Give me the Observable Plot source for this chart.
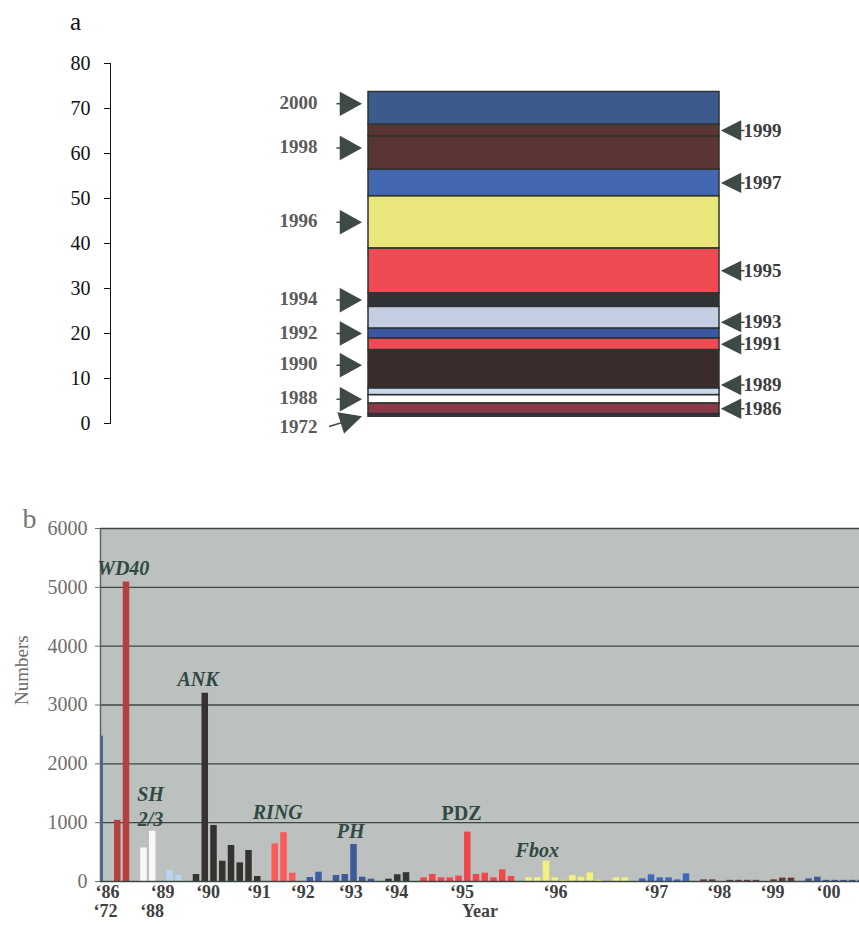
<!DOCTYPE html>
<html><head><meta charset="utf-8">
<script src="https://cdn.jsdelivr.net/npm/d3@7"></script>
<script src="https://cdn.jsdelivr.net/npm/@observablehq/plot@0.6"></script>
<style>
html,body{margin:0;padding:0;background:#fff;}
body{width:859px;height:926px;overflow:hidden;position:relative;}
#a{position:absolute;left:0;top:0;}
#b{position:absolute;left:0;top:490px;}
svg{overflow:visible;}
</style></head><body>
<div id="a"></div><div id="b"></div>
<script>
// ---------- Panel a: cumulative stack of domain families by year ----------
const stackYears  = [1972, 1986, 1988, 1989, 1990, 1991, 1992, 1993, 1994, 1995, 1996, 1997, 1998, 1999, 2000];
const stackCounts = [0.6, 2.37, 1.85, 1.5, 8.5, 2.6, 2.2, 4.8, 3.0, 10.0, 11.6, 5.9, 7.4, 2.6, 7.25];
const stackColors = ["#2f3b4b","#8a3a47","#ffffff","#c8d9ec","#3a2c2d","#ee4b55","#3b57a2","#c3cee2","#2f3236","#ee4b55","#e9e77c","#4467b1","#5b3434","#5b3434","#3d5a8c"];
const stackBase = 1.5;
const leftYears  = [2000, 1998, 1996, 1994, 1992, 1990, 1988];
const rightYears = [1999, 1997, 1995, 1993, 1991, 1989, 1986];
const axisATicks = [0, 10, 20, 30, 40, 50, 60, 70, 80];

// ---------- Panel b: numbers per year ----------
const groupYears  = ["1972","1986","1988","1989","1990","1991","1992","1993","1994","1995","1996","1997","1998","1999","2000"];
const groupValues = [
  [2470],
  [1040, 5090],
  [570, 855],
  [187, 102],
  [119, 3200, 952, 345, 612, 317, 527, 85],
  [640, 830, 141],
  [68, 158],
  [102, 119, 629, 73, 39],
  [39, 115, 150],
  [62, 119, 62, 62, 91, 839, 119, 141, 62, 198, 85],
  [65, 65, 345, 62, 20, 100, 73, 145, 20, null, 62, 62],
  [45, 113, 62, 62, 28, 130],
  [28, 28, null, 20, 20, 20, 20],
  [28, 57, 57],
  [45, 73, 20, 20, 20, 20, 20]
];
const groupColors = ["#4a64a6","#b4403e","#f8f8f8","#b9d6f0","#35332f","#fb5a5a","#3e5eab","#3e5a98","#34363a","#f0474c","#f3f17c","#3f68c2","#6a3434","#6a3434","#3d5b9c"];
const axisBTicks = [0, 1000, 2000, 3000, 4000, 5000, 6000];
const yearTickText = ["‘86","‘89","‘90","‘91","‘92","‘93","‘94","‘95","‘96","‘97","‘98","‘99","‘00","‘72","‘88"];
const yearTickSlot = [1.2, 7.5, 12.7, 18.5, 23.5, 29.0, 34.2, 41.7, 52.4, 63.9, 71.1, 77.2, 83.6, 0.97, 6.3];
const yearTickRow  = [0,0,0,0,0,0,0,0,0,0,0,0,0,1,1];
const familyNames = ["WD40","ANK","SH\n2/3","RING","PH","PDZ","Fbox"];
const familyYears = ["1986","1990","1988","1991","1993","1995","1996"];
const visibleSlots = [0.4, 87.14];

// ----- build panel a -----
let acc = stackBase;
const segs = stackYears.map((yr, i) => {
  const y1 = acc; acc += stackCounts[i];
  return {year: String(yr), y1, y2: acc, mid: (y1 + acc) / 2, color: stackColors[i]};
});
const leftSegs  = segs.filter(d => leftYears.includes(+d.year));
const rightSegs = segs.filter(d => rightYears.includes(+d.year));
const firstSeg  = segs.filter(d => d.year === "1972");
// small label nudges (in axis units) so neighbouring labels do not collide
const nudge = {"2000": 1, "1998": 1.1, "1990": 0.9, "1993": -1, "1989": 1.5};
const labelY = d => d.mid + (nudge[d.year] || 0);

const arrowColor = "#3e4a43";
const arrowRight = {draw(c){ c.moveTo(-24,0); c.lineTo(-20,0); c.moveTo(-20,-11); c.lineTo(0,0); c.lineTo(-20,11); c.closePath(); }};
const arrowLeft  = {draw(c){ c.moveTo(22,0); c.lineTo(18,0); c.moveTo(18,-9); c.lineTo(0,0); c.lineTo(18,9); c.closePath(); }};
const ux = 0.954, uy = -0.298, px = 0.298, py = 0.954;
const arrowDiag = {draw(c){
  const bx = -20*ux, by = -20*uy;
  c.moveTo(-33*ux, -33*uy); c.lineTo(bx, by);
  c.moveTo(bx + 10*px, by + 10*py); c.lineTo(0,0); c.lineTo(bx - 10*px, by - 10*py); c.closePath();
}};

const chartA = Plot.plot({
  width: 859, height: 460,
  marginTop: 63, marginBottom: 37, marginLeft: 110, marginRight: 140,
  style: {fontFamily: "'Liberation Serif', serif", fontSize: "20px", color: "#111", background: "transparent"},
  x: {domain: [0, 1], range: [368, 719], axis: null},
  y: {domain: [0, 80], ticks: axisATicks, tickSize: 6, tickPadding: 14, line: true, label: null},
  color: {type: "identity"},
  marks: [
    Plot.rect(segs, {x1: 0, x2: 1, y1: "y1", y2: "y2", fill: "color", stroke: "#2e3330", strokeWidth: 1.5}),
    Plot.dot(leftSegs, {x: 0, y: labelY, dx: -8, symbol: arrowRight, fill: arrowColor, stroke: arrowColor, strokeWidth: 1.5}),
    Plot.text(leftSegs, {x: 0, y: labelY, text: "year", dx: -51, dy: -1, textAnchor: "end", fontWeight: "bold", fill: "#5a5a5a", fontSize: 19}),
    Plot.dot(rightSegs, {x: 1, y: labelY, dx: 3, symbol: arrowLeft, fill: arrowColor, stroke: arrowColor, strokeWidth: 1.5}),
    Plot.text(rightSegs, {x: 1, y: labelY, text: "year", dx: 24, textAnchor: "start", fontWeight: "bold", fill: "#3c3c3c", fontSize: 19}),
    Plot.dot(firstSeg, {x: 0, y: "y1", dx: -8, symbol: arrowDiag, fill: arrowColor, stroke: arrowColor, strokeWidth: 1.5}),
    Plot.text(firstSeg, {x: 0, y: "y1", text: "year", dx: -51, dy: 10, textAnchor: "end", fontWeight: "bold", fill: "#5a5a5a", fontSize: 19}),
    Plot.text(["a"], {frameAnchor: "top-left", text: d => d, dx: -35, dy: -51, fontSize: 25, fill: "#111", textAnchor: "middle"})
  ]
});
document.getElementById("a").appendChild(chartA);

// ----- build panel b -----
const bars = [];
const colorOf = {};
let slot = 0;
groupYears.forEach((yr, g) => {
  colorOf[yr] = groupColors[g];
  groupValues[g].forEach(v => { if (v != null) bars.push({slot, value: v, year: yr}); slot++; });
  slot++;
});
const familyLabels = familyNames.map((name, i) => {
  const grp = bars.filter(b => b.year === familyYears[i]);
  const peak = grp.reduce((a, b) => b.value > a.value ? b : a);
  return {name, slot: peak.slot, value: peak.value};
});
const labelStyle = {
  "WD40": {dx: 0, dy: -15, italic: true},
  "ANK": {dx: -4, dy: -15, italic: true},
  "SH\n2/3": {dx: 1, dy: -26, italic: true},
  "RING": {dx: -3, dy: -22, italic: true},
  "PH": {dx: 0, dy: -14, italic: true},
  "PDZ": {dx: -3, dy: -20, italic: false},
  "Fbox": {dx: -6, dy: -12, italic: true}
};
const yearTicks = yearTickText.map((t, i) => ({t, slot: yearTickSlot[i], row: yearTickRow[i]}));

const labelMarks = familyLabels.map(d => Plot.text([d], {
  x: "slot", y: "value", text: "name", dx: labelStyle[d.name].dx, dy: labelStyle[d.name].dy,
  fontStyle: labelStyle[d.name].italic ? "italic" : "normal", fontWeight: "bold",
  fill: "#2f4a42", fontSize: 20, lineHeight: 1.25
}));

const chartB = Plot.plot({
  width: 859, height: 436,
  marginTop: 38, marginBottom: 45, marginLeft: 100, marginRight: 0,
  style: {fontFamily: "'Liberation Serif', serif", fontSize: "20px", color: "#6e6e6e", background: "transparent"},
  x: {domain: visibleSlots, axis: null},
  y: {domain: [0, 6000], ticks: axisBTicks, tickSize: 5, tickPadding: 8, tickFormat: d3.format("d"), label: null},
  color: {type: "identity"},
  marks: [
    Plot.frame({fill: "#bcc0bf"}),
    Plot.gridY(axisBTicks.slice(1), {stroke: "#3b4742", strokeOpacity: 1, strokeWidth: 1.3}),
    Plot.rect(bars, {x1: "slot", x2: d => d.slot + 1, y1: 0, y2: "value", insetRight: 2.25, fill: d => colorOf[d.year], clip: true}),
    Plot.ruleY([0], {stroke: "#3b4742", strokeWidth: 1.3}),
    Plot.ruleX([visibleSlots[0]], {stroke: "#5f6562", strokeWidth: 1.5}),
    ...labelMarks,
    Plot.text(yearTicks.filter(d => d.row === 0), {x: "slot", y: 0, text: "t", dy: 11, fontWeight: "bold", fill: "#3f3f3f", fontSize: 18}),
    Plot.text(yearTicks.filter(d => d.row === 1), {x: "slot", y: 0, text: "t", dy: 30, fontWeight: "bold", fill: "#3f3f3f", fontSize: 18}),
    Plot.text(["Numbers"], {frameAnchor: "left", text: d => d, dx: -79, rotate: -90, fill: "#6a6a6a", fontSize: 19}),
    Plot.text(["Year"], {frameAnchor: "bottom", text: d => d, dy: 35, fontWeight: "bold", fill: "#444", fontSize: 18}),
    Plot.text(["b"], {frameAnchor: "top-left", text: d => d, dx: -71, dy: -20, fill: "#777", fontSize: 28, textAnchor: "middle"})
  ]
});
document.getElementById("b").appendChild(chartB);
</script>
</body></html>
